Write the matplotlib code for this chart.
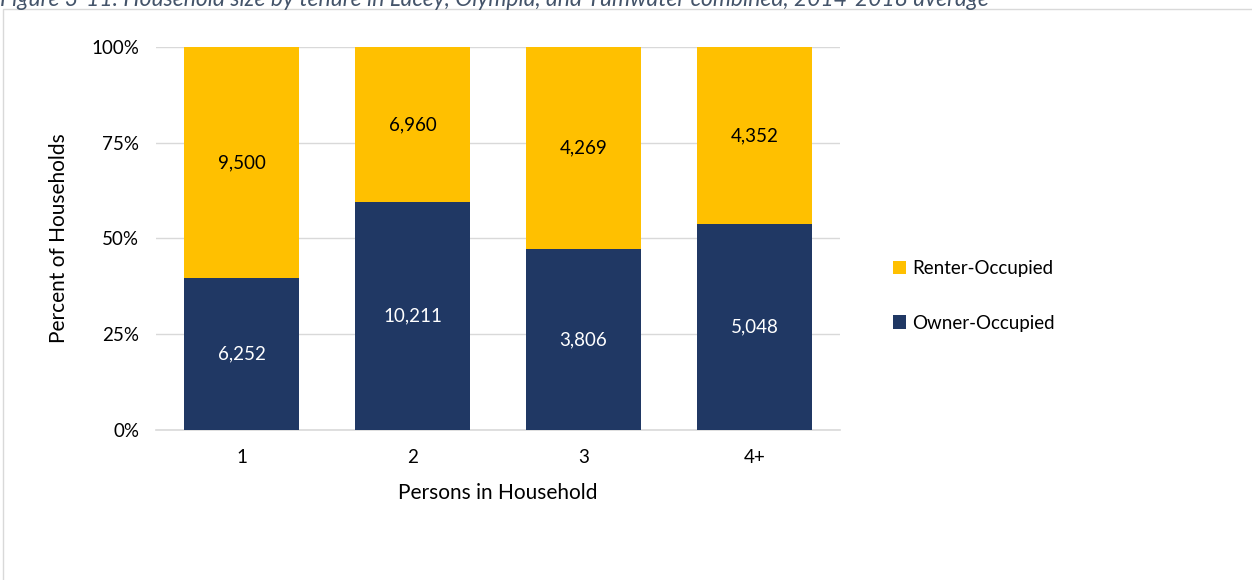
import matplotlib

matplotlib.use("Agg")
import matplotlib.pyplot as plt
from matplotlib.patches import Rectangle
from matplotlib.ticker import FuncFormatter

plt.rcParams["font.family"] = ["Lato", "DejaVu Sans"]

categories = ["1", "2", "3", "4+"]
owner = [6252, 10211, 3806, 5048]
renter = [9500, 6960, 4269, 4352]

NAVY = "#203864"
GOLD = "#FFC000"

totals = [o + r for o, r in zip(owner, renter)]
owner_pct = [100.0 * o / t for o, t in zip(owner, totals)]
renter_pct = [100.0 * r / t for r, t in zip(renter, totals)]

fig = plt.figure(figsize=(12.52, 5.8), dpi=100)
ax = fig.add_axes([0.1246, 0.2586, 0.5464, 0.6604])

x = range(len(categories))
b_owner = ax.bar(x, owner_pct, width=0.67, color=NAVY, zorder=3, label="Owner-Occupied")
b_renter = ax.bar(x, renter_pct, width=0.67, bottom=owner_pct, color=GOLD, zorder=3, label="Renter-Occupied")

for bar, val in zip(b_owner, owner):
    ax.text(bar.get_x() + bar.get_width() / 2, bar.get_height() / 2, f"{val:,}",
            ha="center", va="center", fontsize=13.5, color="white")
for bar, base, val in zip(b_renter, owner_pct, renter):
    ax.text(bar.get_x() + bar.get_width() / 2, base + bar.get_height() / 2, f"{val:,}",
            ha="center", va="center", fontsize=13.5, color="black")

ax.set_xlim(-0.5, 3.5)
ax.set_ylim(0, 100)
ax.set_yticks([0, 25, 50, 75, 100])
ax.yaxis.set_major_formatter(FuncFormatter(lambda v, p: f"{v:.0f}%"))
ax.set_xticks(list(x))
ax.set_xticklabels(categories)
ax.tick_params(axis="both", length=0, labelsize=13.5, pad=12)
ax.tick_params(axis="x", pad=14)
ax.yaxis.grid(True, color="#D9D9D9", lw=1, zorder=0)
for s in ("top", "right", "left"):
    ax.spines[s].set_visible(False)
ax.spines["bottom"].set_color("#D9D9D9")
ax.spines["bottom"].set_linewidth(1.2)

ax.set_ylabel("Percent of Households", fontsize=15, labelpad=16)
ax.set_xlabel("Persons in Household", fontsize=15, labelpad=12)

handles, labels = ax.get_legend_handles_labels()
fig.legend(handles[::-1], labels[::-1], loc="center left", bbox_to_anchor=(0.7, 0.49),
           frameon=False, fontsize=13.5, handlelength=0.7, handleheight=0.7,
           handletextpad=0.3, labelspacing=2.0)

fig.patches.append(Rectangle((0.0025, -0.01), 1.1, 0.995, transform=fig.transFigure,
                             fill=False, edgecolor="#D9D9D9", lw=1))
fig.text(0.0, 1.0, "Figure 3-11. Household size by tenure in Lacey, Olympia, and Tumwater combined, 2014-2018 average",
         ha="left", va="center", fontsize=16.5, style="italic", color="#44546A")

fig.savefig("out.png", dpi=100)
